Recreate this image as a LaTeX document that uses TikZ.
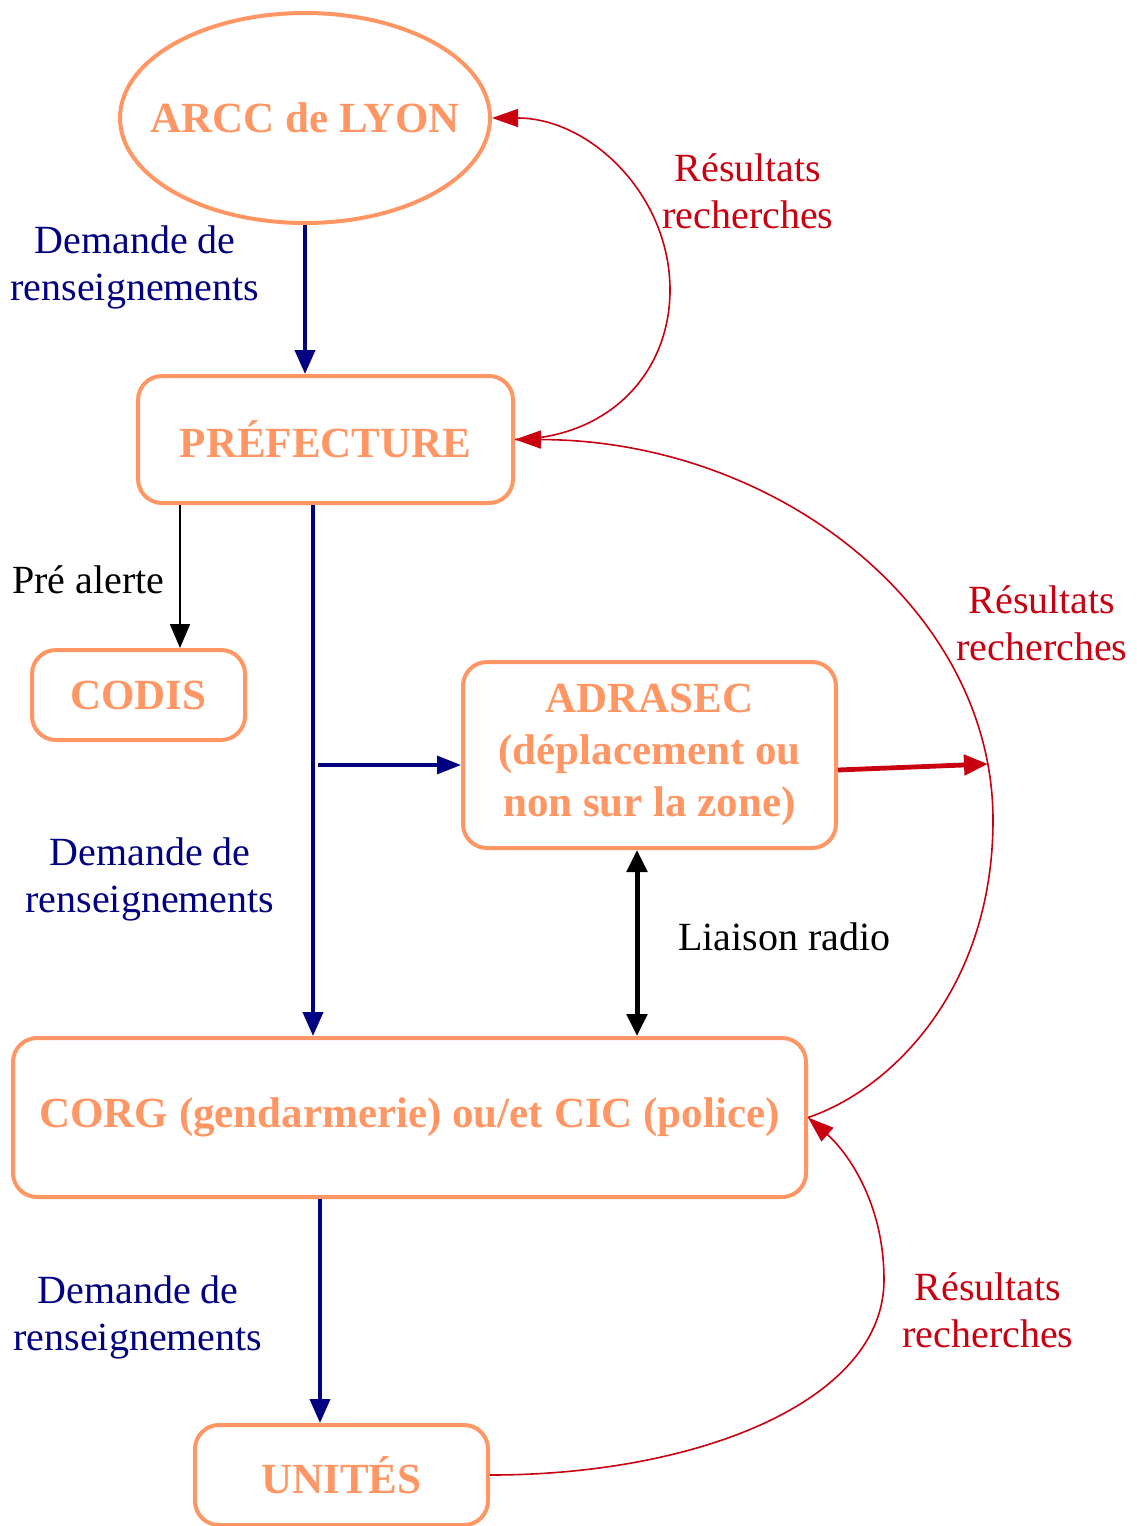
\documentclass[tikz,border=0pt]{standalone}
\usepackage{fontspec}
\setmainfont{Liberation Serif}
\usetikzlibrary{shapes.geometric,arrows.meta}
\definecolor{orng}{RGB}{255,150,100}
\definecolor{navy}{RGB}{0,0,128}
\definecolor{rouge}{RGB}{200,0,16}
\tikzset{
  box/.style={draw=orng, line width=2pt, rounded corners=12pt, inner sep=0pt,
    text=orng, font=\fontsize{21.5}{26}\selectfont\bfseries, align=center},
  lbl/.style={font=\fontsize{20}{23.5}\selectfont, align=center, inner sep=0pt},
  bluearrow/.style={draw=navy, line width=2pt, -{Triangle[length=12pt,width=10pt]}},
  redcurve/.style={draw=rouge, line width=0.8pt, -{Triangle[length=13pt,width=9pt]}},
}
\begin{document}
\begin{tikzpicture}[x=0.5pt,y=-0.5pt]
\useasboundingbox (0,0) rectangle (1136,1526);
% nodes
\node[box, ellipse, rounded corners=0pt, minimum width=185pt, minimum height=105pt] (arcc) at (305,118) {\makebox[0pt]{ARCC de LYON}};
\node[box, minimum width=187.5pt, minimum height=63.5pt] (pref) at (325.5,439.5) {PRÉFECTURE};
\node[box, minimum width=106.5pt, minimum height=45pt] (codis) at (138.5,695) {CODIS};
\node[box, minimum width=186.5pt, minimum height=93pt] (adrasec) at (649.5,755) {ADRASEC\\(déplacement ou\\non sur la zone)};
\node[box, minimum width=396.5pt, minimum height=79.5pt] (corg) at (409.5,1117.5) {CORG (gendarmerie) ou/et CIC (police)};
\node[box, minimum width=146.5pt, minimum height=50pt] (unites) at (341.5,1475) {UNITÉS};
% labels
\node[lbl, text=navy] (l1) at (135,267) {Demande de\\renseignements};
\node[lbl, text=rouge] (l2) at (748,191) {Résultats\\recherches};
\node[lbl, anchor=west] (l3) at (12,580) {Pré alerte};
\node[lbl, text=rouge] (l4) at (1042,623) {Résultats\\recherches};
\node[lbl, text=navy] (l5) at (150,879) {Demande de\\renseignements};
\node[lbl, anchor=west] (l6) at (678,937) {Liaison radio};
\node[lbl, text=navy] (l7) at (138,1317) {Demande de\\renseignements};
\node[lbl, text=rouge] (l8) at (988,1310) {Résultats\\recherches};
% coordinates
\coordinate (br) at (318,765);
\coordinate (hit) at (988,764);
% straight connectors
\draw[bluearrow] (arcc.south) -- (arcc.south |- pref.north);
\draw[black, line width=1pt, -{Triangle[length=12pt,width=10pt]}] ([xshift=22pt]pref.south west) -- ([xshift=22pt]pref.south west |- codis.north);
\draw[bluearrow] ([xshift=-6.25pt]pref.south) -- ([xshift=-6.25pt]pref.south |- corg.north);
\draw[draw=navy, line width=1.6pt, -{Triangle[length=12pt,width=9pt]}] (br) -- (br -| adrasec.west);
\draw[black, line width=2.5pt, {Triangle[length=11pt,width=10pt]}-{Triangle[length=11pt,width=10pt]}] ([xshift=-6.25pt]adrasec.south) -- ([xshift=-6.25pt]adrasec.south |- corg.north);
\draw[draw=rouge, line width=2.4pt, -{Triangle[length=12pt,width=10pt]}] ([yshift=-7.5pt]adrasec.east) -- (hit);
\draw[bluearrow] ([xshift=-10.75pt]unites.north |- corg.south) -- ([xshift=-10.75pt]unites.north);
% curves
\draw[redcurve] (pref.east) .. controls (610,438) and (670,372) .. (670,290) .. controls (670,195) and (590,118) .. (arcc.east);
\draw[redcurve] (corg.east) .. controls (890,1090) and (993,990) .. (993,820) .. controls (993,610) and (778,440) .. (pref.east);
\draw[redcurve] (unites.east) .. controls (700,1475) and (884,1400) .. (884,1280) .. controls (884,1200) and (845,1150) .. (corg.east);
\end{tikzpicture}
\end{document}
